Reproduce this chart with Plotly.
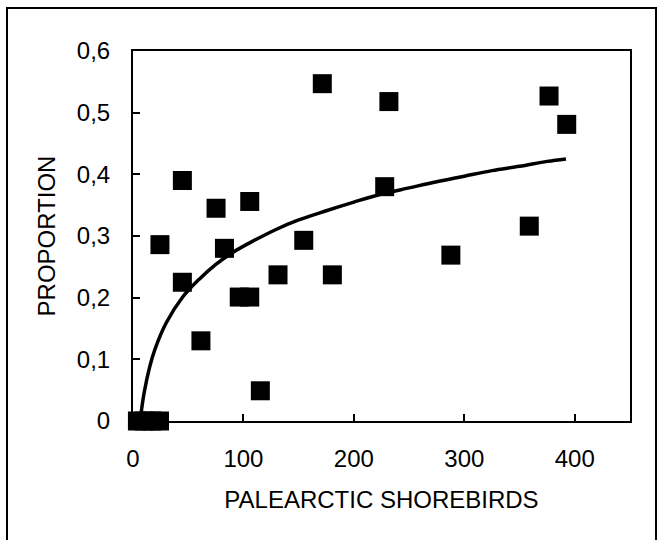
import plotly.graph_objects as go

shorebirds = [4, 10, 17, 24, 24.4, 44.7, 44.7, 61.5, 75.2, 82.8, 96.2, 105.7, 105.7,
              115.3, 131.3, 154.6, 171.4, 180.5, 227.9, 231.7, 287.8, 358.8, 376.7, 392.7]
proportion = [0, 0, 0, 0, 0.286, 0.390, 0.225, 0.130, 0.345, 0.280, 0.201, 0.201, 0.356,
              0.049, 0.237, 0.293, 0.547, 0.237, 0.380, 0.518, 0.269, 0.316, 0.527, 0.481]

# Trend curve
trend_x = [7, 10, 15, 20, 30, 45, 60, 75, 90, 110, 130, 150, 175, 200, 225, 250,
           275, 300, 325, 350, 375, 392]
trend_y = [0.008, 0.045, 0.087, 0.117, 0.159, 0.201, 0.230, 0.254, 0.273, 0.293, 0.311,
           0.326, 0.341, 0.355, 0.368, 0.378, 0.388, 0.397, 0.406, 0.413, 0.421, 0.425]

x_ticks = [0, 100, 200, 300, 400]
y_ticks = [0, 0.1, 0.2, 0.3, 0.4, 0.5, 0.6]
y_ticktext = ["0", "0,1", "0,2", "0,3", "0,4", "0,5", "0,6"]

FONT = "Liberation Sans, Arial, sans-serif"
FS = 24

fig = go.Figure()
fig.add_trace(go.Scatter(x=trend_x, y=trend_y, mode="lines",
                         line=dict(color="black", width=3.5, shape="spline"),
                         showlegend=False, hoverinfo="skip"))
fig.add_trace(go.Scatter(x=shorebirds, y=proportion, mode="markers",
                         marker=dict(symbol="square", size=19, color="black",
                                     line=dict(width=0)),
                         cliponaxis=False, showlegend=False))

W, H = 661, 540
L, R, T, B = 133, 31, 51, 119
pw, ph = W - L - R, H - T - B

def px(x):
    return (x - L) / pw

def py(y):
    return (H - B - y) / ph

fig.add_shape(type="rect", xref="paper", yref="paper",
              x0=px(7), x1=px(656), y0=py(560), y1=py(8),
              line=dict(color="black", width=2), fillcolor="rgba(0,0,0,0)",
              layer="above")

fig.update_layout(
    width=W, height=H,
    margin=dict(l=L, r=R, t=T, b=B),
    paper_bgcolor="white", plot_bgcolor="white",
    font=dict(family=FONT, size=FS, color="black"),
    separators=", ",
    xaxis=dict(range=[0, 450], tickvals=x_ticks, ticks="inside", ticklen=7,
               tickwidth=2, tickcolor="black", showline=True, linewidth=2,
               linecolor="black", mirror=True, showgrid=False, zeroline=False,
               title=dict(text="PALEARCTIC SHOREBIRDS", standoff=20,
                          font=dict(size=FS)),
               ticklabelstandoff=15, tickfont=dict(size=FS)),
    yaxis=dict(range=[0, 0.6], tickvals=y_ticks, ticktext=y_ticktext,
               ticks="inside", ticklen=7, tickwidth=2, tickcolor="black",
               showline=True, linewidth=2, linecolor="black", mirror=True,
               showgrid=False, zeroline=False,
               title=dict(text="PROPORTION", standoff=14, font=dict(size=FS)),
               ticklabelstandoff=16, tickfont=dict(size=FS)),
)

fig.write_html("out.html")
